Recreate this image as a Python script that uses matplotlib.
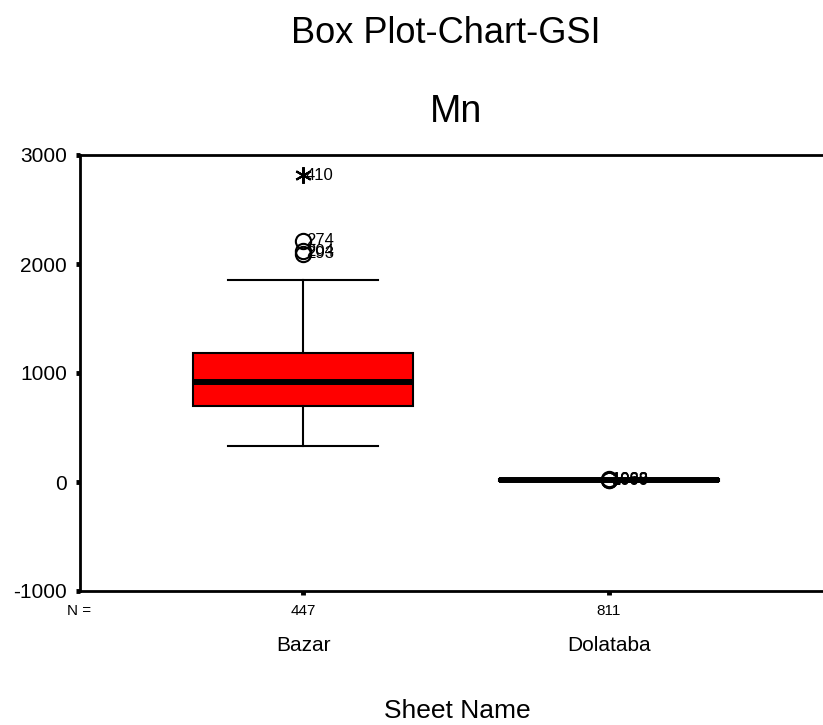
import matplotlib.pyplot as plt
from matplotlib.transforms import blended_transform_factory

plt.rcParams['font.family'] = ['Liberation Sans', 'DejaVu Sans']
plt.rcParams['axes.unicode_minus'] = False

# Mn by sheet name
groups = ['Bazar', 'Dolataba']
counts = [447, 811]
q1 = [700, 10]
median = [920, 18]
q3 = [1185, 26]
whisker_low = [330, 8]
whisker_high = [1850, 28]

# outliers (case number, value) and extremes
outlier_vals = [[2215, 2115, 2095], [24, 20, 16]]
outlier_ids = [['274', '204', '293'], ['1088', '1063', '1000']]
extreme_vals = [[2815], []]
extreme_ids = [['410'], []]

W, H = 823, 725
fig = plt.figure(figsize=(W / 100, H / 100), dpi=100)
ax = fig.add_axes([80 / W, 134 / H, 752 / W, 436 / H])

stats = []
for i, g in enumerate(groups):
    stats.append({'label': g, 'q1': q1[i], 'med': median[i], 'q3': q3[i],
                  'whislo': whisker_low[i], 'whishi': whisker_high[i], 'fliers': []})

pos = [1, 2]
ax.bxp(stats, positions=pos, widths=0.72, patch_artist=True, showfliers=False,
       boxprops=dict(facecolor='#ff0000', edgecolor='black', linewidth=1.5),
       medianprops=dict(color='black', linewidth=4.3, solid_capstyle='butt'),
       whiskerprops=dict(color='black', linewidth=1.5),
       capprops=dict(color='black', linewidth=1.5),
       capwidths=0.49)

for i in range(len(groups)):
    for v, lab in zip(outlier_vals[i], outlier_ids[i]):
        ax.plot(pos[i], v, 'o', mfc='none', mec='black', ms=11, mew=1.5)
        ax.text(pos[i] + 0.01, v, lab, fontsize=12, va='center', ha='left')
    for v, lab in zip(extreme_vals[i], extreme_ids[i]):
        ax.plot(pos[i], v, marker=(6, 2, 0), color='black', ms=12, mew=1.5)
        ax.text(pos[i] + 0.01, v, lab, fontsize=12, va='center', ha='left')

ax.set_xlim(0.271, 2.729)
ax.set_ylim(-1000, 3000)
ax.set_yticks([-1000, 0, 1000, 2000, 3000])
ax.set_xticks(pos)
ax.set_xticklabels([str(c) for c in counts], fontsize=11)
ax.tick_params(axis='y', direction='out', length=3, width=3.5, labelsize=15, pad=6.5)
ax.tick_params(axis='x', direction='out', length=3, width=3.5, pad=6.5)
for s in ax.spines.values():
    s.set_linewidth(2)

# group names beneath the counts
tr = blended_transform_factory(ax.transData, fig.transFigure)
for p, g in zip(pos, groups):
    ax.text(p, 1 - 651 / H, g, transform=tr, fontsize=15, ha='center', va='baseline')

fig.text(79 / W, 1 - 615 / H, 'N =', fontsize=11, ha='center', va='baseline')
fig.text(446 / W, 1 - 43 / H, 'Box Plot-Chart-GSI', fontsize=26, ha='center', va='baseline')
fig.text(456 / W, 1 - 122 / H, 'Mn', fontsize=27, ha='center', va='baseline')
fig.text(457 / W, 1 - 718 / H, 'Sheet Name', fontsize=19, ha='center', va='baseline')

fig.savefig('out.png', dpi=100)
